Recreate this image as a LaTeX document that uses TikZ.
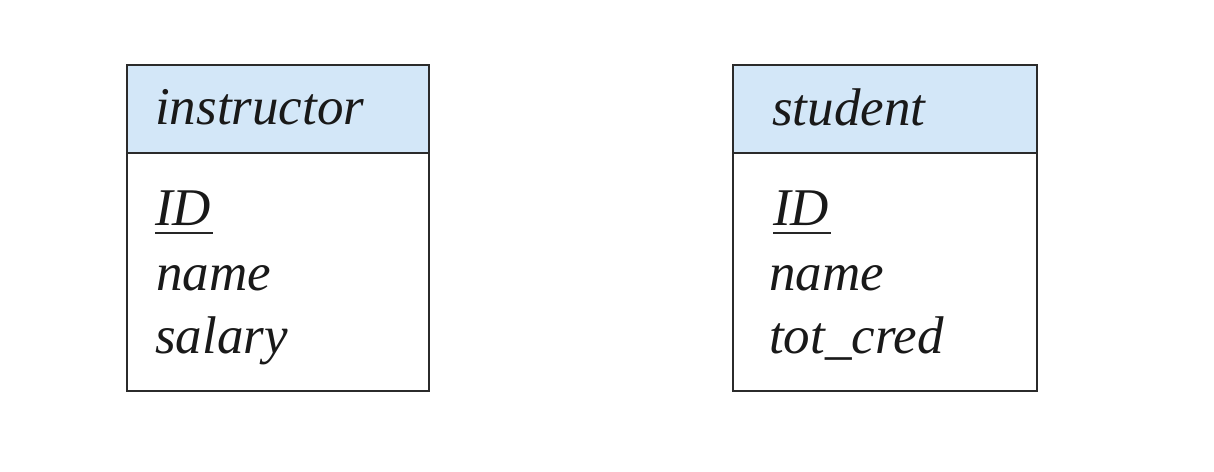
\documentclass[tikz,border=0pt]{standalone}
\usepackage{fontspec}
\setmainfont{Liberation Serif}
\definecolor{hdr}{HTML}{D3E7F8}
\definecolor{edge}{HTML}{2B2B2B}
\begin{document}
\begin{tikzpicture}[x=1pt,y=-1pt,
  box/.style={draw=edge,line width=2.4pt},
  hbox/.style={box,fill=hdr},
  uline/.style={draw=black!85,line width=2pt},
  txt/.style={anchor=base west,inner sep=0pt,text=black!90,font=\fontsize{53}{58}\selectfont\itshape}]
\useasboundingbox[fill=white] (0,0) rectangle (1214,471);
% instructor
\draw[hbox] (127,65) rectangle (429,153);
\draw[box] (127,153) rectangle (429,391);
\node[txt] (in) at (155,124) {instructor};
\node[txt] (iid) at (155,225) {ID};
\draw[uline] ([yshift=-8pt]iid.base west) -- ([yshift=-8pt,xshift=2pt]iid.base east);
\node[txt] (iname) at (156,290) {name};
\node[txt] (isal) at (155,353) {salary};
% student
\draw[hbox] (733,65) rectangle (1037,153);
\draw[box] (733,153) rectangle (1037,391);
\node[txt] (st) at (772,125) {student};
\node[txt] (sid) at (773,225) {ID};
\draw[uline] ([yshift=-8pt]sid.base west) -- ([yshift=-8pt,xshift=2pt]sid.base east);
\node[txt] (sname) at (769,290) {name};
\node[txt] (stot) at (769,353) {tot\_cred};
\end{tikzpicture}
\end{document}
